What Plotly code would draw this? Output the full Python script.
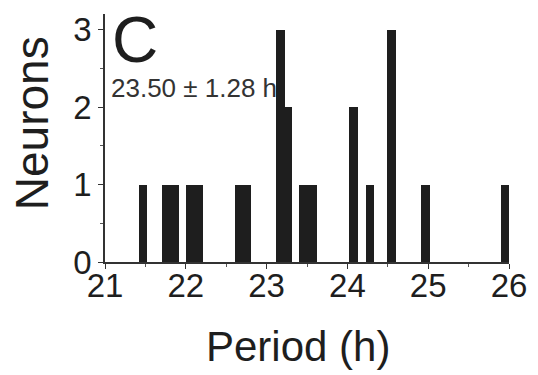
import plotly.graph_objects as go

# Histogram bins (period, h) and neuron counts
periods = [21.47, 21.765, 21.855, 22.06, 22.16, 22.67, 22.755, 23.17, 23.26,
           23.46, 23.565, 24.07, 24.28, 24.55, 24.97, 25.96]
counts = [1, 1, 1, 1, 1, 1, 1, 3, 2, 1, 1, 2, 1, 3, 1, 1]
x_ticks = [21, 22, 23, 24, 25, 26]
y_ticks = [0, 1, 2, 3]
panel_label = "C"
stat_label = "23.50 ± 1.28 h"
x_title = "Period (h)"
y_title = "Neurons"

FONT = "Liberation Sans, Arial, sans-serif"
INK = "#1e1e1e"

fig = go.Figure()
fig.add_trace(go.Bar(x=periods, y=counts, width=0.11,
                     marker=dict(color=INK, line=dict(width=0))))

fig.update_layout(
    width=538, height=375,
    margin=dict(l=105, r=26, t=11, b=113),
    paper_bgcolor="white", plot_bgcolor="white",
    showlegend=False,
    font=dict(family=FONT, color=INK),
    bargap=0,
)
fig.update_xaxes(
    range=[21, 26], tickvals=x_ticks, ticktext=[str(v) for v in x_ticks],
    showgrid=False, zeroline=False,
    showline=True, linecolor="#333", linewidth=1.5,
    ticks="outside", ticklen=5, tickwidth=1.2, tickcolor="#333",
    minor=dict(dtick=0.5, ticks="outside", ticklen=3, tickcolor="#555", tickwidth=1),
    tickfont=dict(size=33, family=FONT, color=INK),
    ticklabelstandoff=-11,
)
fig.update_yaxes(
    range=[0, 3.2], tickvals=y_ticks, ticktext=[str(v) for v in y_ticks],
    showgrid=False, zeroline=False,
    showline=True, linecolor="#333", linewidth=1.5,
    ticks="outside", ticklen=5, tickwidth=1.2, tickcolor="#333",
    minor=dict(dtick=0.5, ticks="outside", ticklen=3, tickcolor="#555", tickwidth=1),
    tickfont=dict(size=33, family=FONT, color=INK),
)

fig.add_annotation(x=21.06, y=2.86, xref="x", yref="y", text=panel_label,
                   showarrow=False, xanchor="left", yanchor="middle",
                   font=dict(size=64, family=FONT, color=INK))
fig.add_annotation(x=21.05, y=2.25, xref="x", yref="y", text=stat_label,
                   showarrow=False, xanchor="left", yanchor="middle",
                   font=dict(size=26, family=FONT, color="#333"))
# paper coords are relative to plot area (x: 105..512 px, y: 262..11 px)
fig.add_annotation(x=(299 - 105) / 407, y=(262 - 348) / 251, xref="paper", yref="paper",
                   text=x_title, showarrow=False, xanchor="center", yanchor="middle",
                   font=dict(size=42, family=FONT, color=INK))
fig.add_annotation(x=(31 - 105) / 407, y=(262 - 122) / 251, xref="paper", yref="paper",
                   text=y_title, textangle=-90, showarrow=False,
                   xanchor="center", yanchor="middle",
                   font=dict(size=46, family=FONT, color=INK))

fig.write_html("out.html")
